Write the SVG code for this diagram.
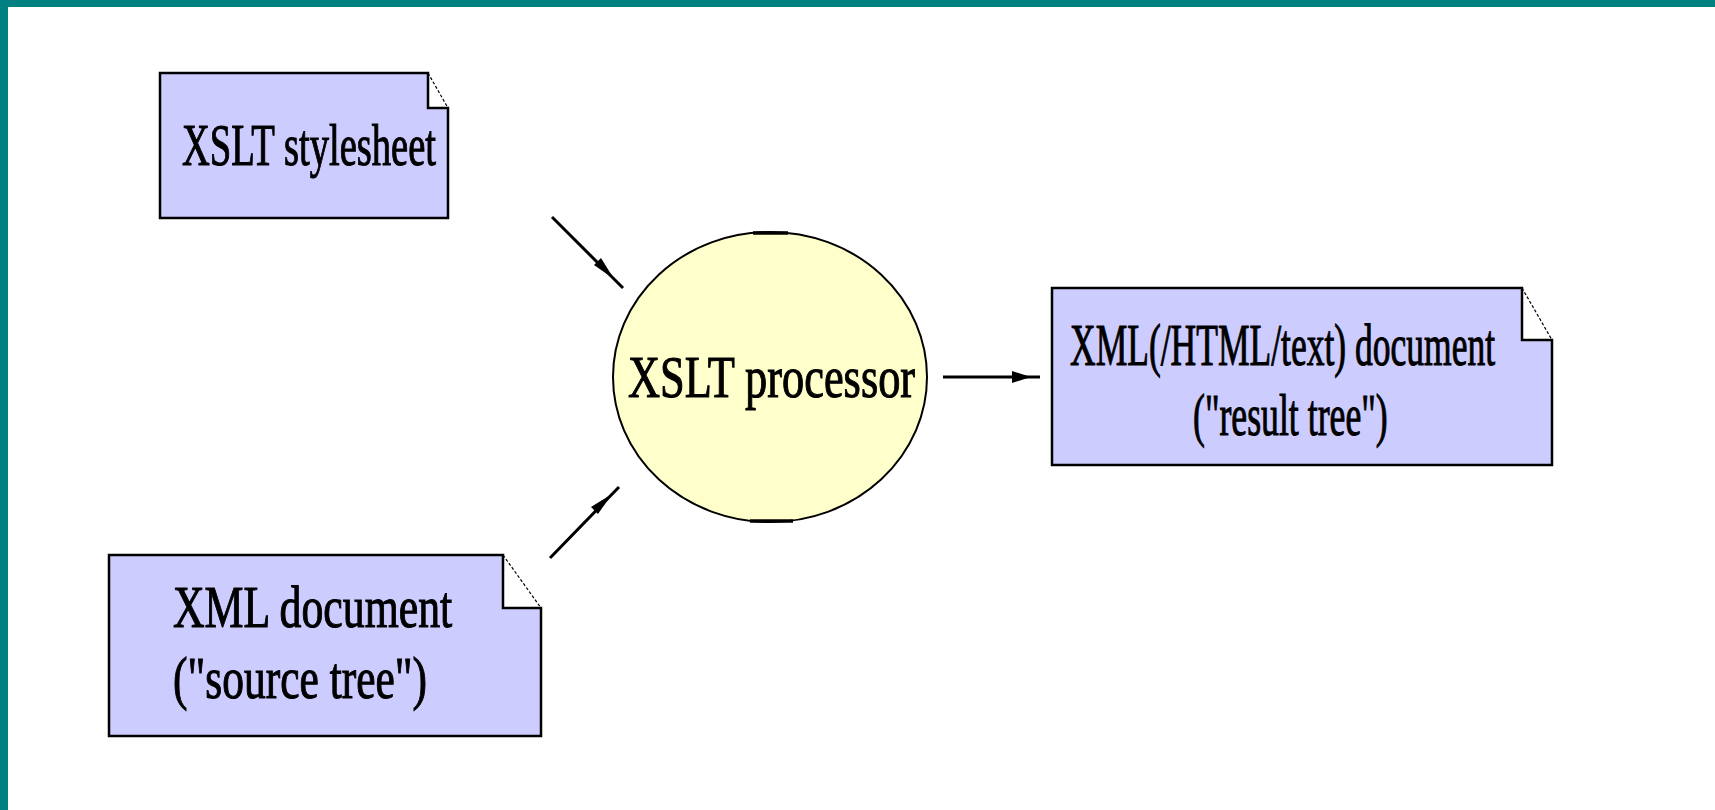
<svg xmlns="http://www.w3.org/2000/svg" width="1715" height="810" viewBox="0 0 1715 810">
  <defs>
    <style>
      .note { fill: #ccccff; stroke: #000; stroke-width: 2.5; stroke-linejoin: miter; }
      .cutline { stroke: #000; stroke-width: 1.2; stroke-dasharray: 3 2; }
      .proc { fill: #ffffcc; stroke: #000; stroke-width: 2; }
      .lbl { font-family: "Liberation Serif", "Times New Roman", serif; font-size: 60px; fill: #000; stroke: #000; stroke-width: 1.1; }
      .edge { stroke: #000; stroke-width: 3; fill: none; }
      .head { fill: #000; }
    </style>
  </defs>

  <!-- page background with teal frame on top and left -->
  <rect x="0" y="0" width="1715" height="810" fill="#ffffff"/>
  <rect x="0" y="0" width="1715" height="7" fill="#008080"/>
  <rect x="0" y="0" width="8" height="810" fill="#008080"/>

  <!-- XSLT stylesheet -->
  <g id="stylesheet">
    <polygon class="note" points="160,73 428,73 428,108 448,108 448,218 160,218"/>
    <line class="cutline" x1="428" y1="73" x2="448" y2="108"/>
    <g transform="translate(182,165) scale(0.66,1)">
      <text class="lbl" x="0" y="0" textLength="385" lengthAdjust="spacingAndGlyphs">XSLT stylesheet</text>
    </g>
  </g>

  <!-- XML source document -->
  <g id="source">
    <polygon class="note" points="109,555 503,555 503,608 541,608 541,736 109,736"/>
    <line class="cutline" x1="503" y1="555" x2="541" y2="608"/>
    <g transform="translate(173,627) scale(0.66,1)">
      <text class="lbl" x="0" y="0" textLength="423" lengthAdjust="spacingAndGlyphs">XML document</text>
    </g>
    <g transform="translate(173,698) scale(0.66,1)">
      <text class="lbl" x="0" y="0" textLength="385" lengthAdjust="spacingAndGlyphs">("source tree")</text>
    </g>
  </g>

  <!-- XSLT processor -->
  <g id="processor">
    <ellipse class="proc" cx="770" cy="377" rx="157" ry="145"/>
    <line x1="753" y1="233" x2="788" y2="233" stroke="#000" stroke-width="3.5"/>
    <line x1="750" y1="521" x2="793" y2="521" stroke="#000" stroke-width="3.5"/>
    <g transform="translate(628,397) scale(0.66,1)">
      <text class="lbl" x="0" y="0" textLength="435" lengthAdjust="spacingAndGlyphs">XSLT processor</text>
    </g>
  </g>

  <!-- XML result document -->
  <g id="result">
    <polygon class="note" points="1052,288 1522,288 1522,340 1552,340 1552,465 1052,465"/>
    <line class="cutline" x1="1522" y1="288" x2="1552" y2="340"/>
    <g transform="translate(1070,365) scale(0.66,1)">
      <text class="lbl" x="0" y="0" textLength="644" lengthAdjust="spacingAndGlyphs">XML(/HTML/text) document</text>
    </g>
    <g transform="translate(1193,435) scale(0.66,1)">
      <text class="lbl" x="0" y="0" textLength="295" lengthAdjust="spacingAndGlyphs">("result tree")</text>
    </g>
  </g>

  <!-- connectors -->
  <g id="connectors">
    <line class="edge" x1="552" y1="217" x2="623" y2="288"/>
    <polygon class="head" points="614,279 594,265 601,258"/>
    <line class="edge" x1="550" y1="558" x2="619" y2="487"/>
    <polygon class="head" points="612,494 598,514 591,507"/>
    <line class="edge" x1="943" y1="377" x2="1040" y2="377"/>
    <polygon class="head" points="1031,377 1012,371 1012,383"/>
  </g>
</svg>
